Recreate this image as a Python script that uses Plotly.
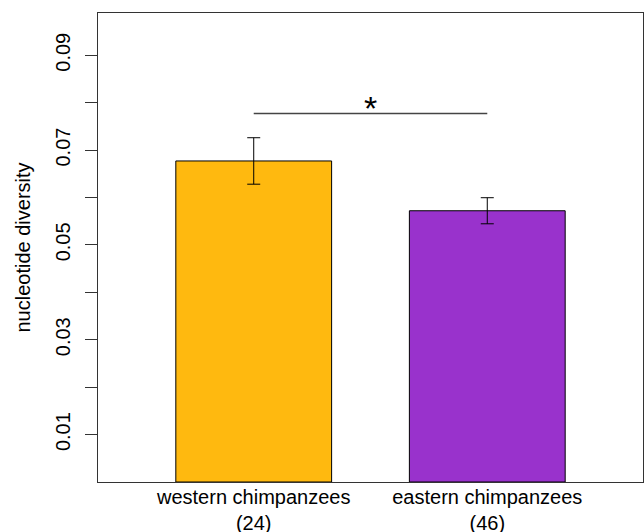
import plotly.graph_objects as go

groups = ["western chimpanzees", "eastern chimpanzees"]
sample_sizes = [24, 46]
means = [0.0677, 0.0572]
errors = [0.0049, 0.00275]
bar_colors = ["#FFB90F", "#9932CC"]
y_tick_vals = [0.01, 0.02, 0.03, 0.04, 0.05, 0.06, 0.07, 0.08, 0.09]
y_tick_text = ["0.01", "", "0.03", "", "0.05", "", "0.07", "", "0.09"]
sig_level = 0.0777
sig_label = "*"

labels = [f"{g}<br>({n})" for g, n in zip(groups, sample_sizes)]
FONT = "Liberation Sans, Arial, Helvetica, sans-serif"

fig = go.Figure()
fig.add_trace(go.Bar(
    x=labels, y=means,
    marker=dict(color=bar_colors, line=dict(color="black", width=1)),
    error_y=dict(type="data", array=errors, visible=True, color="black",
                 thickness=1, width=6.5),
    showlegend=False,
))
# significance line between the two bar centres
fig.add_trace(go.Scatter(
    x=labels, y=[sig_level, sig_level], mode="lines",
    line=dict(color="#444444", width=1.5), showlegend=False, hoverinfo="skip",
))
fig.add_annotation(
    x=0.5, y=sig_level, xref="x", yref="y", text=sig_label, showarrow=False,
    yanchor="bottom", yshift=-15, font=dict(family=FONT, size=34, color="black"),
)

fig.update_layout(
    width=644, height=532,
    margin=dict(l=98, r=1, t=13, b=50),
    paper_bgcolor="white", plot_bgcolor="white",
    bargap=0.333,
    font=dict(family=FONT, size=20, color="black"),
)
fig.update_xaxes(
    type="category", range=[-0.6667, 1.6667], automargin=False,
    showline=True, mirror=True, linecolor="#333333", linewidth=1.3,
    showgrid=False, zeroline=False, ticks="",
    tickfont=dict(family=FONT, size=20, color="black"),
    ticklabelstandoff=-3,
)
fig.update_yaxes(
    range=[0, 0.0989], automargin=False,
    showline=True, mirror=True, linecolor="#333333", linewidth=1.3,
    showgrid=False, zeroline=False,
    ticks="outside", ticklen=12, tickcolor="#333333", tickwidth=1.3,
    tickvals=y_tick_vals, ticktext=y_tick_text, tickangle=-90,
    tickfont=dict(family=FONT, size=20, color="black"),
    ticklabelstandoff=7,
    title=dict(text="nucleotide diversity", font=dict(family=FONT, size=20, color="black"),
               standoff=15),
)

fig.write_html("out.html")
